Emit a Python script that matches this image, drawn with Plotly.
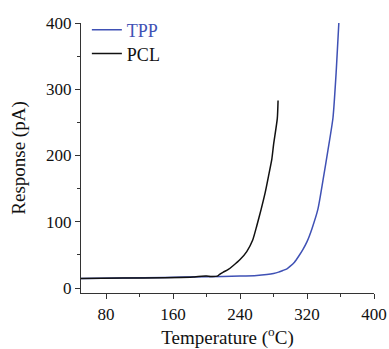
import plotly.graph_objects as go

# TPP series
tpp_temp = [50, 100, 150, 200, 240, 260, 272, 280, 286, 291, 296, 300, 305, 310, 315, 320, 326, 333, 339, 345, 351, 355, 358]
tpp_resp = [14.5, 15, 16, 17, 18, 19, 20.5, 22, 24, 26.5, 29, 33, 39, 48, 58, 70, 90, 119, 162, 208, 257, 330, 400]

# PCL series
pcl_temp = [50, 100, 150, 184, 190, 200, 205, 213, 216, 220, 226, 232, 240, 248, 255, 260, 265, 270, 274, 278, 280, 284.5, 285.4]
pcl_resp = [14.5, 15, 15.5, 16.5, 17.5, 18, 17.5, 18, 21, 24, 28, 34, 43, 55, 72, 94, 118, 144, 169, 195, 216, 256, 283]

x_ticks = [80, 160, 240, 320, 400]
y_ticks = [0, 100, 200, 300, 400]

BLUE = "#3F51B5"
FONT = "Liberation Serif"

fig = go.Figure()
fig.add_trace(go.Scatter(x=tpp_temp, y=tpp_resp, mode="lines",
                         line=dict(color=BLUE, width=1.5, shape="spline", smoothing=0.6),
                         name="<span style='color:%s'>TPP</span>" % BLUE,
                         legend="legend"))
fig.add_trace(go.Scatter(x=pcl_temp, y=pcl_resp, mode="lines",
                         line=dict(color="#111111", width=1.5, shape="spline", smoothing=0.6),
                         name="PCL", legend="legend2"))

axis_common = dict(showline=True, linecolor="#333333", linewidth=1.2,
                   ticks="outside", ticklen=5, tickcolor="#333333",
                   showgrid=False, zeroline=False, mirror=False, automargin=False,
                   tickfont=dict(family=FONT, size=17, color="#111111"))

leg_common = dict(xanchor="left", yanchor="middle", bgcolor="rgba(0,0,0,0)",
                  font=dict(family=FONT, size=18, color="#111111"))

fig.update_layout(
    width=389, height=349,
    margin=dict(l=81, r=15, t=20, b=56),
    plot_bgcolor="white", paper_bgcolor="white",
    font=dict(family=FONT, size=17, color="#111111"),
    showlegend=True,
    legend=dict(x=0.02, y=0.974, **leg_common),
    legend2=dict(x=0.02, y=0.886, **leg_common),
    xaxis=dict(range=[50, 400], tickvals=x_ticks,
               minor=dict(ticks="outside", ticklen=3, dtick=40, tick0=0, tickcolor="#333333"),
               title=dict(text="Temperature (<sup>o</sup>C)", font=dict(family=FONT, size=19)),
               **axis_common),
    yaxis=dict(range=[-7.5, 400], tickvals=y_ticks,
               minor=dict(ticks="outside", ticklen=3, dtick=50, tick0=0, tickcolor="#333333"),
               title=dict(text="Response (pA)", font=dict(family=FONT, size=19)),
               **axis_common),
)

fig.write_html("out.html")
